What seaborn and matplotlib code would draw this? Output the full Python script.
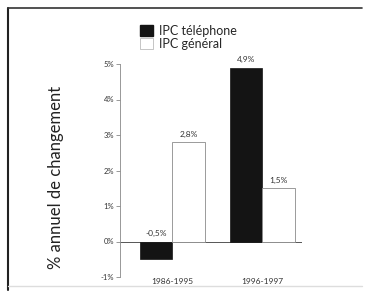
import matplotlib
matplotlib.use("Agg")
import matplotlib.pyplot as plt
import seaborn as sns
import pandas as pd
from matplotlib.lines import Line2D
from matplotlib.patches import Patch

periods = ["1986-1995", "1996-1997"]
series_names = ["IPC téléphone", "IPC général"]
ipc_telephone = [-0.5, 4.9]
ipc_general = [2.8, 1.5]
value_labels_tel = ["-0,5%", "4,9%"]
value_labels_gen = ["2,8%", "1,5%"]
yticks = [-1, 0, 1, 2, 3, 4, 5]
ytick_labels = ["-1%", "0%", "1%", "2%", "3%", "4%", "5%"]

sns.set_theme(style="white")
plt.rcParams['font.family'] = ['Lato', 'DejaVu Sans']

df = pd.DataFrame({
    "period": periods * 2,
    "serie": [series_names[0]] * 2 + [series_names[1]] * 2,
    "value": ipc_telephone + ipc_general,
})

fig = plt.figure(figsize=(3.67, 2.94), dpi=100)
ax = fig.add_axes([120/367, 1-277/294, (302-120)/367, (277-64)/294])

sns.barplot(data=df, x="period", y="value", hue="serie", order=periods,
            hue_order=series_names, palette=["#141414", "#ffffff"],
            width=0.72, ax=ax, legend=False, saturation=1)

for p in ax.patches:
    fc = p.get_facecolor()
    if fc[0] > 0.5:
        p.set_edgecolor("#8a8a8a")
        p.set_linewidth(0.6)
    else:
        p.set_edgecolor("#141414")
        p.set_linewidth(0.5)

ax.set_xlim(-0.578, 1.44)
ax.set_ylim(-1, 5)
ax.set_yticks(yticks)
ax.set_yticklabels(ytick_labels)
ax.axhline(0, color="#555555", lw=0.7, zorder=0.5)

for s in ["top", "right", "bottom"]:
    ax.spines[s].set_visible(False)
ax.spines["left"].set_color("#888888")
ax.spines["left"].set_linewidth(0.6)
ax.tick_params(axis="y", left=True, length=3, width=0.6, color="#888888",
               labelsize=5.5, labelcolor="#333333", pad=1)
ax.tick_params(axis="x", bottom=False, labelsize=6, labelcolor="#333333", pad=-5)
ax.set_xlabel("")
ax.set_ylabel("")

# value labels
bw = 0.36
for i in range(2):
    xt = i - bw/2
    xg = i + bw/2
    yt = max(ipc_telephone[i], 0) + 0.12
    yg = ipc_general[i] + 0.12
    ax.text(xt, yt, value_labels_tel[i], ha="center", va="bottom", fontsize=6, color="#333333")
    ax.text(xg, yg, value_labels_gen[i], ha="center", va="bottom", fontsize=6, color="#333333")

fig.text(56/367, 1-177/294, "% annuel de changement", rotation=90, ha="center",
         va="center", fontsize=12, color="#222222")

handles = [Patch(facecolor="#141414", edgecolor="#141414"),
           Patch(facecolor="#ffffff", edgecolor="#bbbbbb", linewidth=0.6)]
fig.legend(handles, series_names, loc="upper left", bbox_to_anchor=(140/367, 1-25/294),
           frameon=False, fontsize=9, handlelength=1.0, handleheight=1.0,
           handletextpad=0.5, labelspacing=0.05, borderpad=0, borderaxespad=0)

# outer frame
fig.add_artist(Line2D([8/367, 8/367], [1-8/294, 1-290/294], transform=fig.transFigure,
                      color="#222222", lw=1.5))
fig.add_artist(Line2D([8/367, 362/367], [1-8/294, 1-8/294], transform=fig.transFigure,
                      color="#333333", lw=1.2))
fig.add_artist(Line2D([8/367, 362/367], [1-286/294, 1-286/294], transform=fig.transFigure,
                      color="#dddddd", lw=1.0))

fig.savefig("out.png", dpi=100)
